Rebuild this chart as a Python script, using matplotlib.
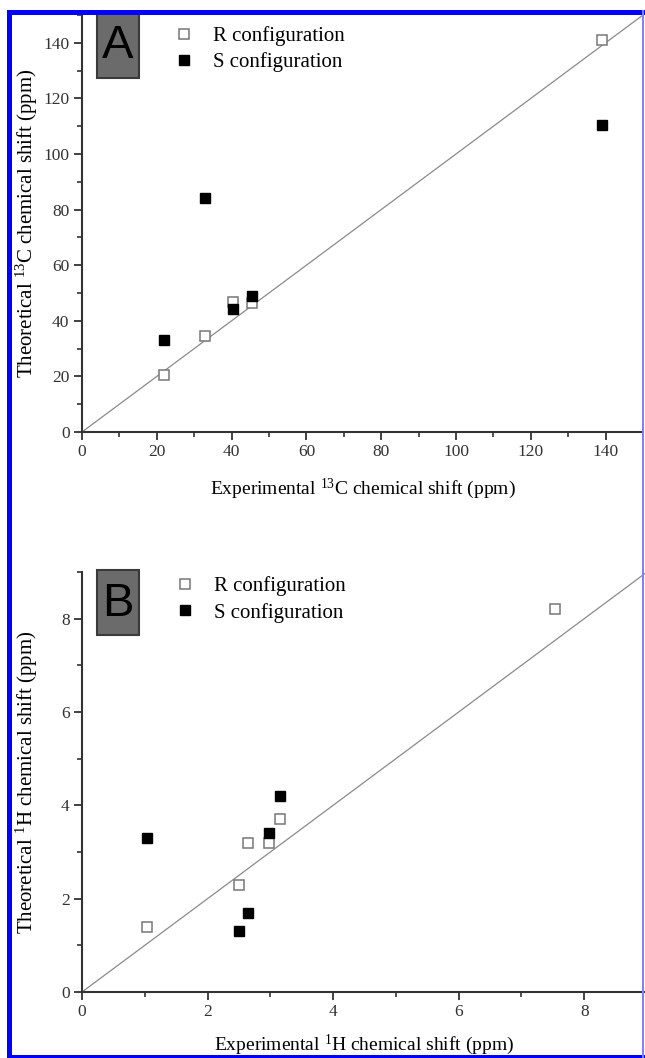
import matplotlib.pyplot as plt
from matplotlib.patches import Rectangle
from matplotlib.ticker import MultipleLocator

plt.rcParams['font.family'] = ['Liberation Serif', 'DejaVu Serif']
plt.rcParams['mathtext.fontset'] = 'custom'
plt.rcParams['mathtext.rm'] = 'Liberation Serif'
plt.rcParams['mathtext.it'] = 'Liberation Serif'
plt.rcParams['mathtext.default'] = 'regular'

# 13C shifts (ppm)
c_exp_r = [22, 33, 40.5, 45.5, 139]
c_theo_r = [20.5, 34.7, 46.6, 46.5, 141]
c_exp_s = [22, 33, 40.5, 45.5, 139]
c_theo_s = [33, 84.2, 44.3, 49, 110.5]

# 1H shifts (ppm)
h_exp_r = [1.04, 2.5, 2.65, 2.98, 3.16, 7.54]
h_theo_r = [1.4, 2.3, 3.2, 3.2, 3.7, 8.2]
h_exp_s = [1.04, 2.5, 2.65, 2.98, 3.16]
h_theo_s = [3.3, 1.3, 1.7, 3.4, 4.2]

fig = plt.figure(figsize=(6.45, 10.58), dpi=100)
W, H = 645.0, 1058.0


def panel(rect, xr, yr, xs, ys, lim, major, minor, letter, xlab, ylab, leg_y, xpad):
    ax = fig.add_axes(rect)
    ax.plot([0, lim], [0, lim], color='#8a8a8a', lw=0.9, zorder=1)
    ax.plot(xr, yr, 's', ms=7, mfc='white', mec='#777777', mew=1.1,
            label='R configuration', zorder=3)
    ax.plot(xs, ys, 's', ms=7, mfc='black', mec='black',
            label='S configuration', zorder=3)
    ax.set_xlim(0, lim)
    ax.set_ylim(0, lim)
    ax.xaxis.set_major_locator(MultipleLocator(major))
    ax.yaxis.set_major_locator(MultipleLocator(major))
    ax.xaxis.set_minor_locator(MultipleLocator(minor))
    ax.yaxis.set_minor_locator(MultipleLocator(minor))
    for s in ['top', 'right']:
        ax.spines[s].set_visible(False)
    for s in ['left', 'bottom']:
        ax.spines[s].set_linewidth(1.5)
        ax.spines[s].set_color('#333333')
    ax.tick_params(which='major', direction='out', length=6, width=1.3,
                   labelsize=12.5, colors='#333333', pad=3)
    ax.tick_params(which='minor', direction='out', length=3.5, width=1.2,
                   colors='#333333')
    ax.set_xlabel(xlab, fontsize=14, labelpad=xpad)
    ax.set_ylabel(ylab, fontsize=15)
    ax.yaxis.set_label_coords(-42 / (rect[2] * W), 0.5)
    ax.legend(loc='upper left', bbox_to_anchor=(0.13, leg_y),
              frameon=False, fontsize=15, handletextpad=0.9,
              labelspacing=0.3, handlelength=1.0)
    ax.add_patch(Rectangle((0.027, 0.85), 0.074, 0.155, transform=ax.transAxes,
                           facecolor='#6b6b6b', edgecolor='#3a3a3a', lw=1.5,
                           clip_on=False, zorder=4))
    ax.text(0.064, 0.925, letter, transform=ax.transAxes, ha='center',
            va='center', fontsize=34, family='Liberation Sans', zorder=5)
    return ax


panel([82 / W, 1 - 432 / H, 561 / W, 417 / H], c_exp_r, c_theo_r, c_exp_s,
      c_theo_s, 150, 20, 10, 'A', r'Experimental $^{13}$C chemical shift (ppm)',
      r'Theoretical $^{13}$C chemical shift (ppm)', 1.018, 12)
panel([82 / W, 1 - 992 / H, 565 / W, 420 / H], h_exp_r, h_theo_r, h_exp_s,
      h_theo_s, 9, 2, 1, 'B', r'Experimental $^{1}$H chemical shift (ppm)',
      r'Theoretical $^{1}$H chemical shift (ppm)', 1.034, 9)

# blue frame around the figure
for x0, y0, w, h, c in [(7, 10, 5, 1048, '#0000ff'), (7, 10, 638, 5, '#0000ff'),
                        (7, 1055, 638, 3, '#0000ff'), (642, 10, 2, 1048, '#7f7fff')]:
    fig.add_artist(Rectangle((x0 / W, 1 - (y0 + h) / H), w / W, h / H,
                             transform=fig.transFigure, facecolor=c,
                             edgecolor='none', zorder=10))

fig.savefig('out.png', dpi=100)
